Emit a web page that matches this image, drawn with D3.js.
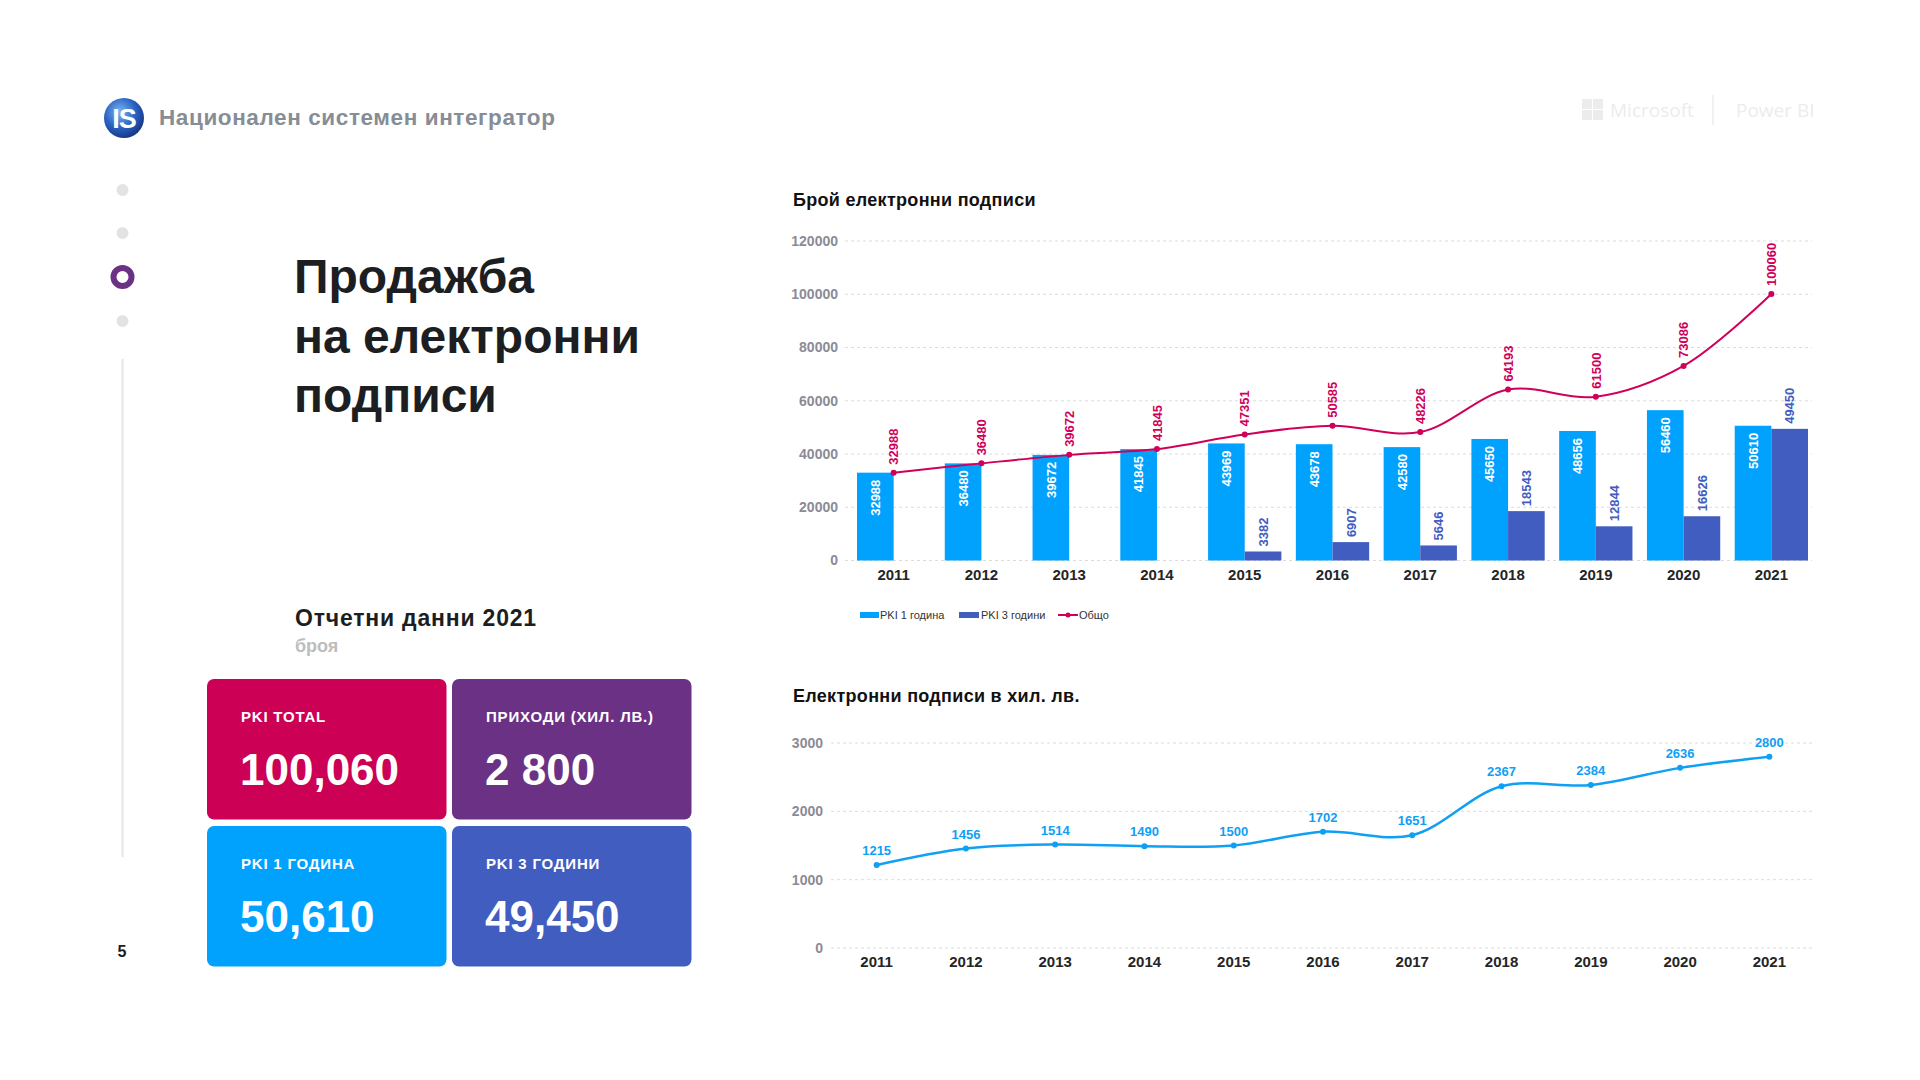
<!DOCTYPE html>
<html lang="bg">
<head>
<meta charset="utf-8">
<script src="https://cdn.jsdelivr.net/npm/d3@7/dist/d3.min.js"></script>
<style>
  html, body { margin: 0; padding: 0; background: #fff; }
  svg { display: block; font-family: "Liberation Sans", Arial, sans-serif; }
</style>
</head>
<body>
<svg id="page" width="1920" height="1080" lang="bg"></svg>
<script>
// ---------- DATA ----------
const years = ["2011","2012","2013","2014","2015","2016","2017","2018","2019","2020","2021"];
const pki1 = [32988, 36480, 39672, 41845, 43969, 43678, 42580, 45650, 48656, 56460, 50610];
const pki3 = [0, 0, 0, 0, 3382, 6907, 5646, 18543, 12844, 16626, 49450];
const total = [32988, 36480, 39672, 41845, 47351, 50585, 48226, 64193, 61500, 73086, 100060];
const topTicks = [0, 20000, 40000, 60000, 80000, 100000, 120000];
const revenue = [1215, 1456, 1514, 1490, 1500, 1702, 1651, 2367, 2384, 2636, 2800];
const bottomTicks = [0, 1000, 2000, 3000];
const legendLabels = ["PKI 1 година", "PKI 3 години", "Общо"];
const kpiLabels = ["PKI TOTAL", "ПРИХОДИ (ХИЛ. ЛВ.)", "PKI 1 ГОДИНА", "PKI 3 ГОДИНИ"];
const kpiValues = ["100,060", "2 800", "50,610", "49,450"];
const titleLines = ["Продажба", "на електронни", "подписи"];

// ---------- COLORS ----------
const C_LIGHT = "#01a1fe", C_DARK = "#415dbf", C_TOTAL = "#d0005a";
const C_REV = "#0fa0f5", C_PURPLE = "#6b3185";

const svg = d3.select("#page");

// ---------- HEADER ----------
const defs = svg.append("defs");
const rg = defs.append("radialGradient").attr("id","logoGrad").attr("cx","40%").attr("cy","35%").attr("r","70%");
rg.append("stop").attr("offset","0%").attr("stop-color","#7fb6f0");
rg.append("stop").attr("offset","55%").attr("stop-color","#2a64c4");
rg.append("stop").attr("offset","100%").attr("stop-color","#16307e");
svg.append("circle").attr("cx",124).attr("cy",118).attr("r",20).attr("fill","url(#logoGrad)");
svg.append("text").attr("x",124).attr("y",128).attr("text-anchor","middle")
  .attr("font-size",27).attr("font-weight",900).attr("fill","#fff").attr("letter-spacing",-1)
  .text("IS");
svg.append("text").attr("x",159).attr("y",125).attr("font-size",22.5).attr("font-weight",700)
  .attr("letter-spacing",0.6).attr("fill","#878d96").text("Национален системен интегратор");

// Microsoft | Power BI (faint)
const msg = svg.append("g").attr("fill","#ececec");
[[0,0],[11,0],[0,11],[11,11]].forEach(([dx,dy]) =>
  msg.append("rect").attr("x",1582+dx).attr("y",99+dy).attr("width",10).attr("height",10));
msg.append("text").attr("x",1610).attr("y",117).attr("font-size",19).attr("font-family","'Open Sans', sans-serif").text("Microsoft");
svg.append("line").attr("x1",1713).attr("x2",1713).attr("y1",95).attr("y2",125).attr("stroke","#ececec").attr("stroke-width",1.5);
msg.append("text").attr("x",1736).attr("y",117).attr("font-size",19).attr("font-family","'Open Sans', sans-serif").text("Power BI");

// ---------- NAV ----------
[190, 233, 321].forEach(y => svg.append("circle").attr("cx",122.5).attr("cy",y).attr("r",6).attr("fill","#e3e3e3"));
svg.append("circle").attr("cx",122.5).attr("cy",277).attr("r",9).attr("fill","#fff").attr("stroke",C_PURPLE).attr("stroke-width",6);
svg.append("line").attr("x1",122.5).attr("x2",122.5).attr("y1",359).attr("y2",857).attr("stroke","#e5e5e5").attr("stroke-width",2);
svg.append("text").attr("x",122).attr("y",957).attr("text-anchor","middle").attr("font-size",16).attr("font-weight",700).attr("fill","#1b1b1b").text("5");

// ---------- BIG TITLE ----------
titleLines.forEach((t,i) => svg.append("text").attr("x",294).attr("y",293 + i*59.5)
  .attr("font-size",48).attr("font-weight",700).attr("fill","#1c1e21").text(t));

// ---------- KPI ----------
svg.append("text").attr("x",295).attr("y",626).attr("font-size",23).attr("font-weight",700)
  .attr("letter-spacing",0.8).attr("fill","#1c1e21").text("Отчетни данни 2021");
svg.append("text").attr("x",295).attr("y",652).attr("font-size",18).attr("font-weight",700).attr("fill","#bdbdbd").text("броя");
const cards = [
  {x:207, y:679, c:"#cc0055"}, {x:452, y:679, c:C_PURPLE},
  {x:207, y:826, c:C_LIGHT}, {x:452, y:826, c:C_DARK}
];
cards.forEach((cd,i) => {
  svg.append("rect").attr("x",cd.x).attr("y",cd.y).attr("width",239.5).attr("height",140.5)
    .attr("rx",7).attr("fill",cd.c);
  svg.append("text").attr("x",cd.x+34).attr("y",cd.y+43).attr("font-size",15).attr("font-weight",700)
    .attr("letter-spacing",0.8).attr("fill","#fff").text(kpiLabels[i]);
  svg.append("text").attr("x",cd.x+33).attr("y",cd.y+106).attr("font-size",44).attr("font-weight",700)
    .attr("fill","#fff").text(kpiValues[i]);
});

// ---------- TOP CHART ----------
svg.append("text").attr("x",793).attr("y",206).attr("font-size",18).attr("font-weight",700)
  .attr("letter-spacing",0.3).attr("fill","#111").text("Брой електронни подписи");
const yT = d3.scaleLinear().domain([0,120000]).range([560.5,241]);
const xT = d3.scaleBand().domain(years).range([857,1808]).paddingInner(0.165).paddingOuter(0);
const xSub = d3.scaleBand().domain(["a","b"]).range([0, xT.bandwidth()]);
const gT = svg.append("g");
gT.selectAll("line.grid").data(topTicks).join("line")
  .attr("x1",845).attr("x2",1812).attr("y1",d=>yT(d)).attr("y2",d=>yT(d))
  .attr("stroke","#dcdcdc").attr("stroke-dasharray","3,3").attr("stroke-width",1);
const yAxT = gT.append("g").attr("transform","translate(838,0)")
  .call(d3.axisLeft(yT).tickValues(topTicks).tickSize(0).tickPadding(0).tickFormat(d3.format("d")));
yAxT.select(".domain").remove();
yAxT.selectAll("text").attr("font-size",14).attr("font-weight",700).attr("fill","#8b8b96").attr("font-family","Liberation Sans, Arial, sans-serif");
const xAxT = gT.append("g").attr("transform","translate(0,566)")
  .call(d3.axisBottom(xT).tickSize(0).tickPadding(0));
xAxT.select(".domain").remove();
xAxT.selectAll("text").attr("font-size",15).attr("font-weight",700).attr("fill","#252525").attr("dy","0.95em").attr("font-family","Liberation Sans, Arial, sans-serif");

// light bars
gT.selectAll("rect.l").data(years).join("rect")
  .attr("x",(d)=>xT(d)+xSub("a")).attr("width",xSub.bandwidth())
  .attr("y",(d,i)=>yT(pki1[i])).attr("height",(d,i)=>yT(0)-yT(pki1[i])).attr("fill",C_LIGHT);
// dark bars
gT.selectAll("rect.d").data(years.filter((d,i)=>pki3[i]>0)).join("rect")
  .attr("x",d=>xT(d)+xSub("b")).attr("width",xSub.bandwidth())
  .attr("y",d=>yT(pki3[years.indexOf(d)])).attr("height",d=>yT(0)-yT(pki3[years.indexOf(d)])).attr("fill",C_DARK);
// light labels
gT.selectAll("text.l").data(years).join("text")
  .attr("transform",(d,i)=>`translate(${xT(d)+xSub("a")+xSub.bandwidth()/2},${yT(pki1[i])+7}) rotate(-90)`)
  .attr("text-anchor","end").attr("dy","0.36em").attr("font-size",13).attr("font-weight",700).attr("fill","#fff")
  .text((d,i)=>pki1[i]);
// dark labels
gT.selectAll("text.d").data(years.filter((d,i)=>pki3[i]>0)).join("text")
  .attr("transform",d=>`translate(${xT(d)+xSub("b")+xSub.bandwidth()/2},${yT(pki3[years.indexOf(d)])-5}) rotate(-90)`)
  .attr("text-anchor","start").attr("dy","0.36em").attr("font-size",13).attr("font-weight",700).attr("fill",C_DARK)
  .text(d=>pki3[years.indexOf(d)]);
// total line
const cx = d => xT(d) + xT.bandwidth()/2;
gT.append("path").datum(years)
  .attr("d", d3.line().x(d=>cx(d)).y((d,i)=>yT(total[i])).curve(d3.curveCatmullRom.alpha(0.5)))
  .attr("fill","none").attr("stroke",C_TOTAL).attr("stroke-width",2);
gT.selectAll("circle.t").data(years).join("circle")
  .attr("cx",d=>cx(d)).attr("cy",(d,i)=>yT(total[i])).attr("r",3).attr("fill",C_TOTAL);
gT.selectAll("text.t").data(years).join("text")
  .attr("transform",(d,i)=>`translate(${cx(d)},${yT(total[i])-8}) rotate(-90)`)
  .attr("text-anchor","start").attr("dy","0.36em").attr("font-size",13).attr("font-weight",700).attr("fill",C_TOTAL)
  .text((d,i)=>total[i]);

// legend
const lg = svg.append("g").attr("font-size",11).attr("fill","#333");
lg.append("rect").attr("x",860).attr("y",612).attr("width",19).attr("height",6).attr("fill",C_LIGHT);
lg.append("text").attr("x",880).attr("y",619).text(legendLabels[0]);
lg.append("rect").attr("x",959).attr("y",612).attr("width",20).attr("height",6).attr("fill",C_DARK);
lg.append("text").attr("x",981).attr("y",619).text(legendLabels[1]);
lg.append("line").attr("x1",1058).attr("x2",1078).attr("y1",615).attr("y2",615).attr("stroke",C_TOTAL).attr("stroke-width",2);
lg.append("circle").attr("cx",1068).attr("cy",615).attr("r",2.5).attr("fill",C_TOTAL);
lg.append("text").attr("x",1079).attr("y",619).text(legendLabels[2]);

// ---------- BOTTOM CHART ----------
svg.append("text").attr("x",793).attr("y",702).attr("font-size",18).attr("font-weight",700)
  .attr("letter-spacing",0.3).attr("fill","#111").text("Електронни подписи в хил. лв.");
const yB = d3.scaleLinear().domain([0,3000]).range([948,743]);
const xB = d3.scaleBand().domain(years).range([832,1814]);
const bx = d => xB(d) + xB.bandwidth()/2;
const gB = svg.append("g");
gB.selectAll("line.grid").data(bottomTicks).join("line")
  .attr("x1",831).attr("x2",1812).attr("y1",d=>yB(d)).attr("y2",d=>yB(d))
  .attr("stroke","#dcdcdc").attr("stroke-dasharray","3,3").attr("stroke-width",1);
const yAxB = gB.append("g").attr("transform","translate(823,0)")
  .call(d3.axisLeft(yB).tickValues(bottomTicks).tickSize(0).tickPadding(0).tickFormat(d3.format("d")));
yAxB.select(".domain").remove();
yAxB.selectAll("text").attr("font-size",14).attr("font-weight",700).attr("fill","#8b8b96").attr("font-family","Liberation Sans, Arial, sans-serif");
const xAxB = gB.append("g").attr("transform","translate(0,953)")
  .call(d3.axisBottom(xB).tickSize(0).tickPadding(0));
xAxB.select(".domain").remove();
xAxB.selectAll("text").attr("font-size",15).attr("font-weight",700).attr("fill","#252525").attr("dy","0.95em").attr("font-family","Liberation Sans, Arial, sans-serif");
gB.append("path").datum(years)
  .attr("d", d3.line().x(d=>bx(d)).y((d,i)=>yB(revenue[i])).curve(d3.curveCatmullRom.alpha(0.5)))
  .attr("fill","none").attr("stroke",C_REV).attr("stroke-width",2.5);
gB.selectAll("circle.r").data(years).join("circle")
  .attr("cx",d=>bx(d)).attr("cy",(d,i)=>yB(revenue[i])).attr("r",3).attr("fill",C_REV);
gB.selectAll("text.r").data(years).join("text")
  .attr("x",d=>bx(d)).attr("y",(d,i)=>yB(revenue[i])-10).attr("text-anchor","middle")
  .attr("font-size",13).attr("font-weight",700).attr("fill",C_REV).text((d,i)=>revenue[i]);
</script>
</body>
</html>
